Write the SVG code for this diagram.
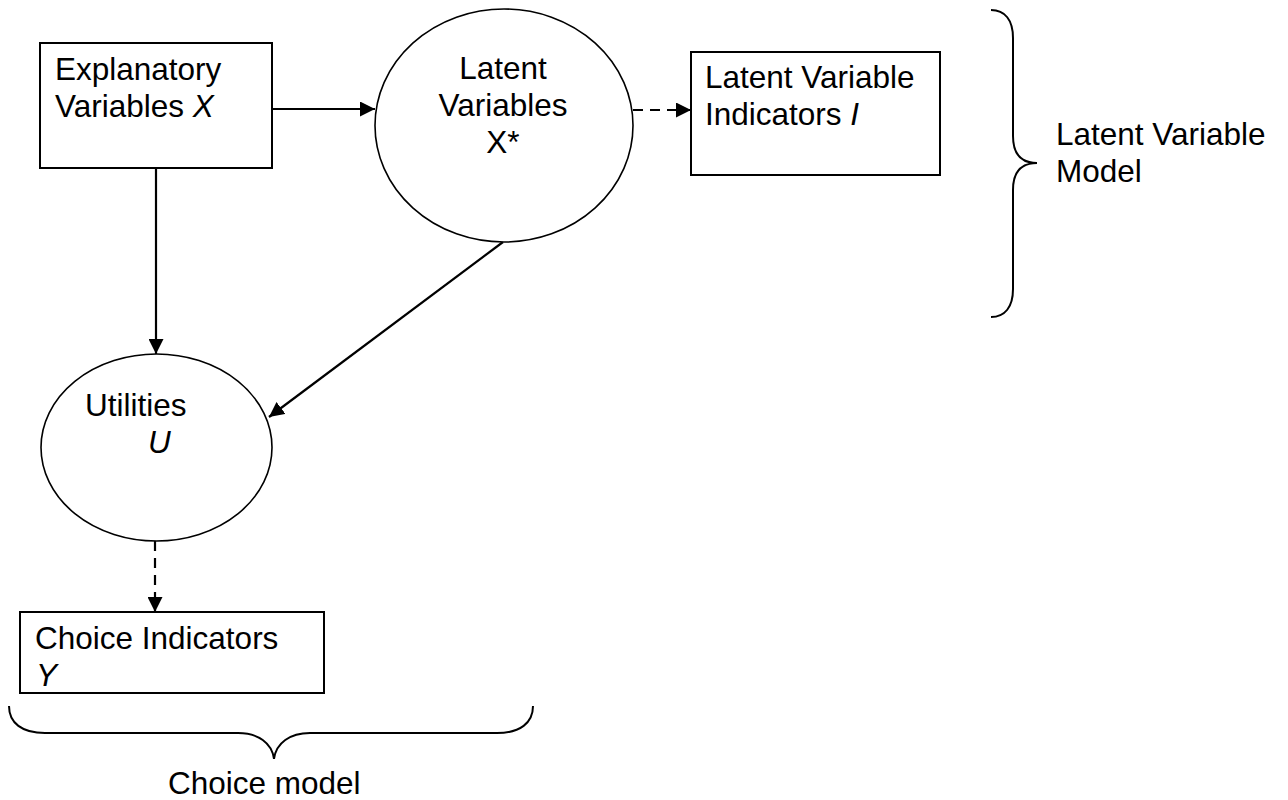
<svg xmlns="http://www.w3.org/2000/svg" width="1288" height="800" viewBox="0 0 1288 800">
  <style>
    text { font-family: "Liberation Sans", Arial, sans-serif; font-size: 31.5px; fill: #000; }
    .it { font-style: italic; }
    .box { fill: #fff; stroke: #000; stroke-width: 2; }
    .ell { fill: #fff; stroke: #000; stroke-width: 1.6; }
    .conn { fill: none; stroke: #000; stroke-width: 2.2; }
    .dash { stroke-dasharray: 10 7; }
    .brace { fill: none; stroke: #000; stroke-width: 2; }
  </style>
  <defs>
    <marker id="arr" viewBox="0 0 15 15" refX="15" refY="7.5" markerWidth="15" markerHeight="15" markerUnits="userSpaceOnUse" orient="auto">
      <path d="M0,0 L15,7.5 L0,15 Z" fill="#000"/>
    </marker>
  </defs>
  <rect width="1288" height="800" fill="#fff"/>

  <g id="connectors">
    <line class="conn" x1="272" y1="109" x2="375" y2="109" marker-end="url(#arr)"/>
    <line class="conn dash" x1="633" y1="110" x2="691" y2="110" marker-end="url(#arr)"/>
    <line class="conn" x1="156" y1="168" x2="156" y2="354" marker-end="url(#arr)"/>
    <line class="conn" x1="503" y1="242" x2="269" y2="417" marker-end="url(#arr)"/>
    <line class="conn dash" x1="155" y1="541" x2="155" y2="612" marker-end="url(#arr)"/>
  </g>

  <g id="explanatory">
    <rect class="box" x="40" y="43" width="232" height="125"/>
    <text x="55" y="80">Explanatory</text>
    <text x="55" y="117">Variables <tspan class="it">X</tspan></text>
  </g>

  <g id="latent">
    <ellipse class="ell" cx="504" cy="125.5" rx="129" ry="116.5"/>
    <text x="503" y="79" text-anchor="middle">Latent</text>
    <text x="503" y="116" text-anchor="middle">Variables</text>
    <text x="503" y="153" text-anchor="middle">X*</text>
  </g>

  <g id="indicators">
    <rect class="box" x="691" y="52" width="249" height="123"/>
    <text x="705" y="88">Latent Variable</text>
    <text x="705" y="125">Indicators <tspan class="it">I</tspan></text>
  </g>

  <g id="utilities">
    <ellipse class="ell" cx="156.5" cy="447.5" rx="115.5" ry="93.5"/>
    <text x="85" y="416">Utilities</text>
    <text x="148" y="453" class="it">U</text>
  </g>

  <g id="choice">
    <rect class="box" x="20" y="612" width="304" height="81"/>
    <text x="35" y="649">Choice Indicators</text>
    <text x="36" y="686" class="it">Y</text>
  </g>

  <g id="lv-model-brace">
    <path class="brace" d="M991,10 C1005,10 1013,20 1013,38 L1013,136 C1013,153 1020,163 1037,163 C1020,163 1013,173 1013,190 L1013,289 C1013,307 1005,317 991,317"/>
    <text x="1056" y="145">Latent Variable</text>
    <text x="1056" y="182">Model</text>
  </g>

  <g id="choice-model-brace">
    <path class="brace" d="M9,706 C9,723 22,733 45,733 L238,733 C258,733 272,743 274,759 C276,743 290,733 310,733 L497,733 C520,733 533,723 533,706"/>
    <text x="168" y="794">Choice model</text>
  </g>
</svg>
